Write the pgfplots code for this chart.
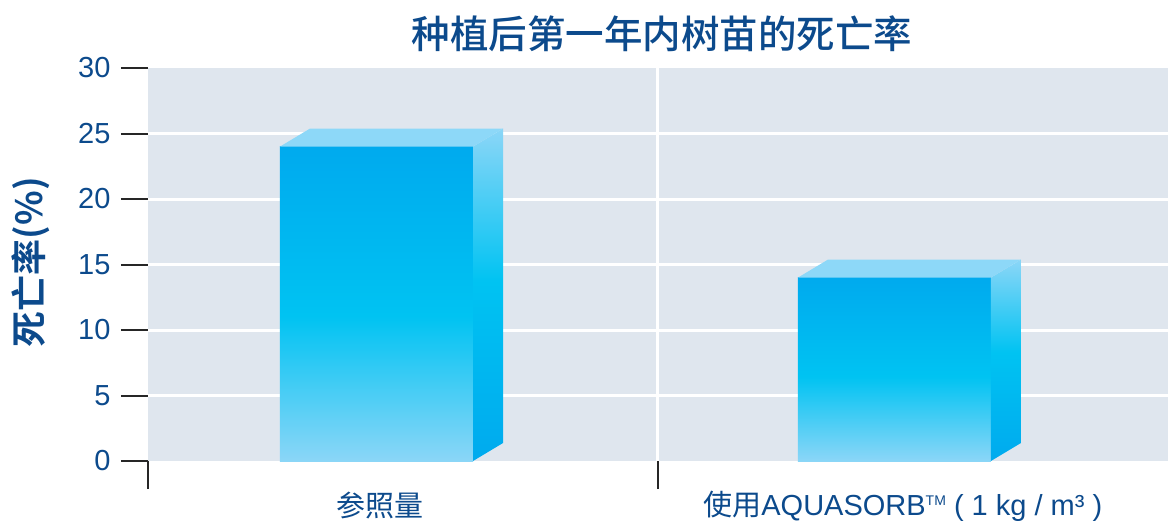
\documentclass[border=0pt]{standalone}
\usepackage{fontspec}
\setmainfont{Liberation Sans}
\newfontfamily\cjk[BoldFont={Noto Sans CJK SC Bold}]{Noto Sans CJK SC}
\newfontfamily\cjkm{Noto Sans CJK SC Medium}
\usepackage{pgfplots}
\pgfplotsset{compat=1.18}
\definecolor{txt}{RGB}{12,74,140}
\definecolor{bg}{RGB}{223,230,238}
\definecolor{dk}{RGB}{0,170,238}
\definecolor{cy}{RGB}{0,195,242}
\definecolor{lt}{RGB}{139,214,247}
\definecolor{tp}{RGB}{141,216,248}
\pgfdeclareverticalshading{front}{100bp}{color(0bp)=(lt); color(25bp)=(lt); color(48bp)=(cy); color(75bp)=(dk); color(100bp)=(dk)}
\pgfdeclareverticalshading{side}{100bp}{color(0bp)=(dk); color(25bp)=(dk); color(52bp)=(cy); color(75bp)=(lt); color(100bp)=(lt)}
\begin{document}
\begin{tikzpicture}
\useasboundingbox (-148pt,-62pt) rectangle (1020pt,461pt);
\begin{axis}[
  at={(0pt,0pt)}, anchor=south west,
  scale only axis, width=1020pt, height=393pt,
  xmin=0, xmax=2, ymin=0, ymax=30,
  axis line style={draw=none},
  axis background/.style={fill=bg},
  tick pos=left,
  ytick={0,5,...,30},
  extra y ticks={5,10,15,20,25},
  extra y tick labels={},
  extra y tick style={grid=major, major tick length=0pt},
  grid style={white, line width=3pt},
  tick align=outside,
  major tick length=27pt,
  tick style={black!85, line width=2pt},
  xtick={0.455,1.48},
  xticklabels={{\cjk 参照量},{{\cjk 使用}AQUASORB\raisebox{10pt}{\fontsize{14}{14}\selectfont TM} ( 1 kg / m³ )}},
  major x tick style={draw=none},
  minor xtick={0,1},
  minor tick length=28pt,
  minor x tick style={black!85, line width=2pt},
  /pgf/number format/assume math mode=true,
  tick label style={font=\fontsize{29}{32}\selectfont, text=txt},
  yticklabel style={xshift=-7pt},
  title={\cjkm 种植后第一年内树苗的死亡率},
  title style={at={(0.504,1)}, anchor=center, yshift=28pt, font=\fontsize{38.5}{40}\selectfont, text=txt},
  ylabel={\cjk\bfseries 死亡率(\%)},
  every axis y label/.style={at={(axis description cs:0,0.506)}, xshift=-117pt, rotate=90, anchor=center, font=\fontsize{36}{38}\selectfont, text=txt},
]
\draw[white, line width=3pt] (axis cs:1,0) -- (axis cs:1,30);
% bar 1: 24
\addplot[draw=none, shade, shading=front, forget plot] coordinates {(0.2588,0) (0.6373,0) (0.6373,24) (0.2588,24)};
\addplot[draw=none, shade, shading=side, forget plot] coordinates {(0.6373,0) (0.6961,1.374) (0.6961,25.374) (0.6373,24)};
\addplot[draw=none, fill=tp, forget plot] coordinates {(0.2588,24) (0.3176,25.374) (0.6961,25.374) (0.6373,24)};
% bar 2: 14
\addplot[draw=none, shade, shading=front, forget plot] coordinates {(1.2745,0) (1.6529,0) (1.6529,14) (1.2745,14)};
\addplot[draw=none, shade, shading=side, forget plot] coordinates {(1.6529,0) (1.7117,1.374) (1.7117,15.374) (1.6529,14)};
\addplot[draw=none, fill=tp, forget plot] coordinates {(1.2745,14) (1.3333,15.374) (1.7117,15.374) (1.6529,14)};
\end{axis}
\end{tikzpicture}
\end{document}
